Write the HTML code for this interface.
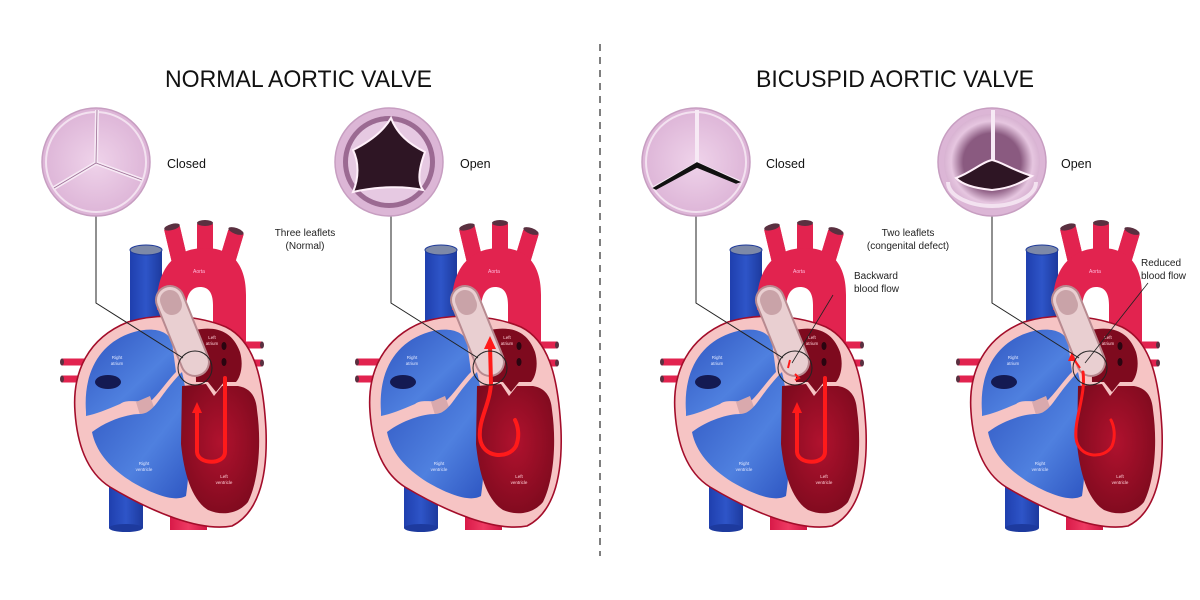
<!DOCTYPE html>
<html><head><meta charset="utf-8"><style>
html,body{margin:0;padding:0;background:#fff;}
svg{display:block;}
text{font-family:"Liberation Sans",Arial,sans-serif;}
</style></head><body>
<svg width="1200" height="600" viewBox="0 0 1200 600" xmlns="http://www.w3.org/2000/svg">
<defs>
<radialGradient id="leaf" cx="50%" cy="50%" r="60%"><stop offset="0" stop-color="#efd3ea"/><stop offset="1" stop-color="#d9aed3"/></radialGradient>
<radialGradient id="ring" cx="50%" cy="50%" r="50%"><stop offset="0.6" stop-color="#8a5a80"/><stop offset="0.85" stop-color="#e6c6e0"/><stop offset="1" stop-color="#d8b3d2"/></radialGradient>
<linearGradient id="blue" x1="0" y1="0" x2="1" y2="1"><stop offset="0" stop-color="#2f55c0"/><stop offset="0.6" stop-color="#4f80df"/><stop offset="1" stop-color="#2e56c2"/></linearGradient>
<linearGradient id="vein" x1="0" y1="0" x2="1" y2="0"><stop offset="0" stop-color="#1f3fae"/><stop offset="0.5" stop-color="#2e55c8"/><stop offset="1" stop-color="#1d3a9e"/></linearGradient>
<linearGradient id="art" x1="0" y1="0" x2="1" y2="0"><stop offset="0" stop-color="#d81a48"/><stop offset="0.5" stop-color="#ef3a63"/><stop offset="1" stop-color="#d01843"/></linearGradient>
<radialGradient id="lv" cx="50%" cy="45%" r="60%"><stop offset="0" stop-color="#b0122e"/><stop offset="1" stop-color="#7e0a1e"/></radialGradient>

<g id="heart">
  <!-- IVC -->
  <rect x="109" y="430" width="34" height="98" fill="url(#vein)"/>
  <ellipse cx="126" cy="528" rx="17" ry="4" fill="#1d3a9e"/>
  <!-- bottom aorta stub -->
  <rect x="170" y="480" width="37" height="50" fill="url(#art)"/>
  <!-- SVC -->
  <rect x="130" y="250" width="32" height="100" fill="url(#vein)"/>
  <ellipse cx="146" cy="250" rx="16" ry="5" fill="#7d89a8" stroke="#1e3a9a" stroke-width="1"/>
  <!-- aorta branches -->
  <g stroke="url(#art)" stroke-width="16" stroke-linecap="butt" fill="none">
    <line x1="180" y1="262" x2="172" y2="228"/>
    <line x1="205" y1="262" x2="205" y2="224"/>
    <line x1="227" y1="262" x2="236" y2="232"/>
  </g>
  <line x1="180" y1="262" x2="172" y2="228" stroke="#e2234f" stroke-width="16"/>
  <line x1="205" y1="262" x2="205" y2="224" stroke="#e2234f" stroke-width="16"/>
  <line x1="227" y1="262" x2="236" y2="232" stroke="#e2234f" stroke-width="16"/>
  <ellipse cx="172" cy="227" rx="8" ry="3" fill="#5a3040" transform="rotate(-15 172 227)"/>
  <ellipse cx="205" cy="223" rx="8" ry="3" fill="#5a3040"/>
  <ellipse cx="236" cy="231" rx="8" ry="3" fill="#5a3040" transform="rotate(20 236 231)"/>
  <!-- aortic arch -->
  <path d="M157,310 C155,265 178,248 205,248 C235,248 246,268 246,295 L246,350 L213,350 L213,305 C213,292 208,287 200,287 C191,287 186,295 186,310 Z" fill="#e2234f"/>
  <text x="199" y="273" font-size="5" fill="#fbd" text-anchor="middle">Aorta</text>
  <!-- pulmonary veins -->
  <g stroke="#e2234f" stroke-width="7">
    <line x1="238" y1="345" x2="262" y2="345"/><line x1="238" y1="363" x2="262" y2="363"/>
    <line x1="62" y1="362" x2="88" y2="362"/><line x1="62" y1="379" x2="88" y2="379"/>
  </g>
  <g fill="#5a3040"><ellipse cx="262" cy="345" rx="2" ry="3.5"/><ellipse cx="262" cy="363" rx="2" ry="3.5"/><ellipse cx="62" cy="362" rx="2" ry="3.5"/><ellipse cx="62" cy="379" rx="2" ry="3.5"/></g>
  <!-- heart body -->
  <path d="M75,412 C72,372 88,338 128,322 C160,312 200,316 226,327 C252,340 263,372 266,430 C268,482 256,514 232,526 C200,532 152,512 110,487 C86,472 77,442 75,412 Z" fill="#f6c4c4" stroke="#a30d2a" stroke-width="1.6"/>
  <!-- right atrium -->
  <path d="M86,412 C83,372 100,342 134,332 C152,327 168,330 172,342 L176,372 C168,380 160,392 152,400 C140,404 128,398 120,404 C106,410 96,414 86,416 Z" fill="url(#blue)"/>
  <ellipse cx="108" cy="382" rx="13" ry="7" fill="#141a52"/>
  <text x="117" y="359" font-size="4.5" fill="#dfe6ff" text-anchor="middle">Right</text>
  <text x="117" y="365" font-size="4.5" fill="#dfe6ff" text-anchor="middle">atrium</text>
  <!-- tricuspid -->
  <path d="M136,402 L150,396 L155,410 L147,418 L140,415 Z" fill="#d9a9ad"/>
  <!-- right ventricle -->
  <path d="M92,432 C108,420 128,414 140,414 C150,414 156,404 162,396 C170,385 176,378 182,372 C190,405 192,455 186,496 C176,502 156,496 132,482 C110,468 96,452 92,432 Z" fill="url(#blue)"/>
  <text x="144" y="465" font-size="4.5" fill="#dfe6ff" text-anchor="middle">Right</text>
  <text x="144" y="471" font-size="4.5" fill="#dfe6ff" text-anchor="middle">ventricle</text>
  <!-- left atrium -->
  <path d="M195,330 C215,326 232,330 240,352 C244,366 240,378 236,382 L224,382 L216,392 L208,382 L196,382 Z" fill="#7e0a1e"/>
  <ellipse cx="224" cy="346" rx="2.5" ry="4" fill="#2a0510"/><ellipse cx="224" cy="362" rx="2.5" ry="4" fill="#2a0510"/>
  <text x="212" y="339" font-size="4.5" fill="#ffd0d8" text-anchor="middle">Left</text>
  <text x="212" y="345" font-size="4.5" fill="#ffd0d8" text-anchor="middle">atrium</text>
  <!-- left ventricle -->
  <path d="M182,386 L206,384 L214,396 L222,386 L238,386 C250,388 256,396 257,410 C262,445 258,482 248,502 C238,514 222,516 208,510 C192,500 184,474 181,444 Z" fill="url(#lv)"/>
  <text x="224" y="478" font-size="4.5" fill="#ffd0d8" text-anchor="middle">Left</text>
  <text x="224" y="484" font-size="4.5" fill="#ffd0d8" text-anchor="middle">ventricle</text>
  <!-- pulmonary trunk -->
  <line x1="170" y1="300" x2="195" y2="362" stroke="#b88a90" stroke-width="30" stroke-linecap="round"/>
  <line x1="170" y1="300" x2="195" y2="362" stroke="#e9cfd1" stroke-width="26" stroke-linecap="round"/>
  <line x1="170" y1="300" x2="172" y2="305" stroke="#c9a3a8" stroke-width="20" stroke-linecap="round"/>
</g>
</defs>

<!-- titles -->
<text x="165" y="87" font-size="24" textLength="267" lengthAdjust="spacingAndGlyphs" fill="#111">NORMAL AORTIC VALVE</text>
<text x="756" y="87" font-size="24" textLength="278" lengthAdjust="spacingAndGlyphs" fill="#111">BICUSPID AORTIC VALVE</text>
<line x1="600" y1="44" x2="600" y2="556" stroke="#555" stroke-width="1.5" stroke-dasharray="7,6"/>

<!-- hearts -->
<use href="#heart"/>
<use href="#heart" transform="translate(295,0)"/>
<use href="#heart" transform="translate(600,0)"/>
<use href="#heart" transform="translate(896,0)"/>

<!-- arrows -->
<g fill="none" stroke="#ff1a1a" stroke-width="4" stroke-linecap="round">
  <path d="M225,378 L225,452 C225,465 198,465 197,452 L197,412"/>
  <path d="M490,345 L491,383 C490,405 478,420 480,438 C482,458 508,460 516,446 C520,436 518,426 515,420"/>
  <path d="M825,378 L825,452 C825,465 798,465 797,452 L797,412"/>
  <path d="M1083,372 C1086,395 1074,420 1076,438 C1078,458 1104,460 1112,446 C1116,436 1114,426 1111,420" stroke-width="3"/>
</g>
<g fill="#ff1a1a">
  <polygon points="197,402 192,413 202,413"/>
  <polygon points="490,336 484,349 496,349"/>
  <polygon points="797,402 792,413 802,413"/>
  <polygon points="1072,352 1068,361 1076,361"/>
</g>
<path d="M1073,358 L1080,368" stroke="#ff1a1a" stroke-width="2"/>
<path d="M790,360 l-2,8 M795,374 l4,4 l-4,2" stroke="#ff1a1a" stroke-width="2" fill="none"/>

<!-- circles & leader lines -->
<g fill="none" stroke="#222" stroke-width="1">
  <circle cx="195" cy="368" r="17"/>
  <circle cx="490" cy="368" r="17"/>
  <circle cx="795" cy="368" r="17"/>
  <circle cx="1090" cy="368" r="17"/>
  <polyline points="96,215 96,303 183,358"/>
  <polyline points="391,215 391,303 478,358"/>
  <polyline points="696,215 696,303 783,358"/>
  <polyline points="992,215 992,303 1079,358"/>
  <line x1="833" y1="295" x2="792" y2="363" stroke-width="0.8"/>
  <line x1="1148" y1="283" x2="1085" y2="363" stroke-width="0.8"/>
</g>

<!-- valves: normal closed -->
<g transform="translate(96,162)">
  <circle r="54" fill="url(#leaf)" stroke="#c79ec1" stroke-width="1.5"/>
  <circle r="50" fill="none" stroke="#f3e2f0" stroke-width="2"/>
  <g stroke="#f7eaf5" stroke-width="4" fill="none"><polyline points="1,-52 0,1 -42,26"/><line x1="0" y1="1" x2="46" y2="18"/></g>
  <g stroke="#9c6f96" stroke-width="0.8" fill="none"><polyline points="1,-52 0,1 -42,26"/><line x1="0" y1="1" x2="46" y2="18"/></g>
</g>
<!-- normal open -->
<g transform="translate(389,162)">
  <circle r="54" fill="#dcb6d6" stroke="#c79ec1" stroke-width="1.5"/>
  <circle r="46" fill="#9b6a92"/>
  <circle r="41" fill="#e6c9e2"/>
  <path d="M2,-44 C8,-28 20,-18 36,-10 C30,6 28,20 34,28 C16,24 -10,24 -36,30 C-30,16 -30,0 -36,-12 C-20,-20 -6,-30 2,-44 Z" fill="#2e1524" stroke="#fff0fa" stroke-width="2"/>
</g>
<!-- bicuspid closed -->
<g transform="translate(696,162)">
  <circle r="54" fill="url(#leaf)" stroke="#c79ec1" stroke-width="1.5"/>
  <circle r="50" fill="none" stroke="#f3e2f0" stroke-width="2"/>
  <g stroke="#f7eaf5" stroke-width="4" fill="none"><line x1="1" y1="-52" x2="1" y2="2"/><polyline points="-42,26 1,2 43,20"/></g>
  <path d="M-42,26 L1,1 L43,20 L40,21 L1,5 L-40,27 Z" fill="#111" stroke="#111" stroke-width="1.5"/>
</g>
<!-- bicuspid open -->
<g transform="translate(992,162)">
  <circle r="54" fill="#dcb6d6" stroke="#c79ec1" stroke-width="1.5"/>
  <circle r="48" fill="url(#ring)"/>
  <g stroke="#f7eaf5" stroke-width="4" fill="none"><line x1="1" y1="-52" x2="1" y2="2"/></g>
  <path d="M-44,20 C-44,35 -20,44 0,44 C20,44 44,35 44,20" fill="none" stroke="#f3e2f0" stroke-width="4"/>
  <path d="M-36,16 C-20,10 -10,0 0,-2 C10,0 20,8 40,14 C30,20 20,26 0,28 C-20,26 -30,22 -36,16 Z" fill="#2e1524" stroke="#fff0fa" stroke-width="2"/>
</g>

<!-- labels -->
<g font-size="12.5" fill="#111">
  <text x="167" y="168">Closed</text>
  <text x="460" y="168">Open</text>
  <text x="766" y="168">Closed</text>
  <text x="1061" y="168">Open</text>
</g>
<g font-size="10" fill="#222" text-anchor="middle">
  <text x="305" y="236">Three leaflets</text>
  <text x="305" y="249">(Normal)</text>
  <text x="908" y="236">Two leaflets</text>
  <text x="908" y="249">(congenital defect)</text>
</g>
<g font-size="10" fill="#222">
  <text x="854" y="279">Backward</text>
  <text x="854" y="292">blood flow</text>
  <text x="1141" y="266">Reduced</text>
  <text x="1141" y="279">blood flow</text>
</g>
</svg>
</body></html>
